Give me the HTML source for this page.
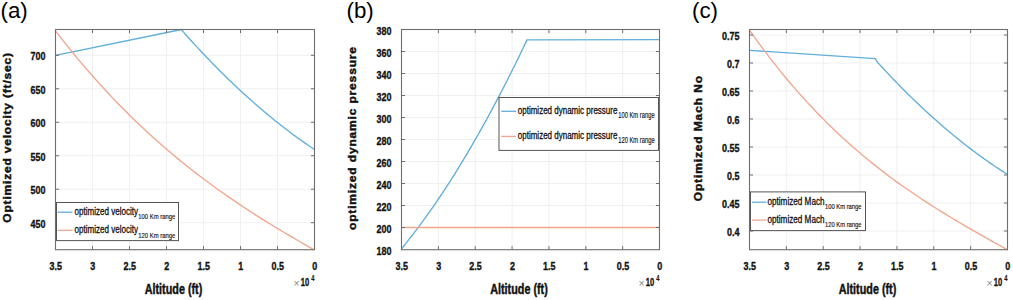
<!DOCTYPE html><html><head><meta charset="utf-8"><style>html,body{margin:0;padding:0;background:#fff;overflow:hidden}svg{display:block}</style></head><body><svg width="1013" height="300" viewBox="0 0 1013 300">
<style>text{font-family:"Liberation Sans",sans-serif;fill:#111}.tk{font-size:11.5px;font-weight:bold;stroke:#111;stroke-width:0.35px}.tks{font-size:9.3px;font-weight:bold;stroke:#111;stroke-width:0.2px}.ex{font-size:11px;fill:#888}.ylab{font-size:12px;font-weight:bold;stroke:#111;stroke-width:0.45px}.lab{font-size:14.2px;font-weight:bold;stroke:#111;stroke-width:0.45px}.lg{font-size:10.3px;fill:#111;stroke:#111;stroke-width:0.3px}.lgs{font-size:7.4px;fill:#111;stroke:#111;stroke-width:0.15px}.pl{font-size:22.3px;fill:#000}</style>
<rect width="1013" height="300" fill="#fff"/>
<path d="M92.50,29.5V249.7 M129.50,29.5V249.7 M166.50,29.5V249.7 M203.50,29.5V249.7 M240.50,29.5V249.7 M277.50,29.5V249.7 M55.5,55.30H314.5 M55.5,88.78H314.5 M55.5,122.26H314.5 M55.5,155.74H314.5 M55.5,189.22H314.5 M55.5,222.70H314.5" stroke="#f0f0f0" stroke-width="1" fill="none"/>
<path d="M55.50,55.30 L181.50,29.50 L183.75,32.41 L186.01,34.94 L188.26,37.46 L190.52,39.95 L192.77,42.43 L195.03,44.89 L197.28,47.34 L199.53,49.76 L201.79,52.17 L204.04,54.56 L206.30,56.93 L208.55,59.28 L210.81,61.62 L213.06,63.93 L215.31,66.23 L217.57,68.51 L219.82,70.77 L222.08,73.02 L224.33,75.25 L226.58,77.45 L228.84,79.65 L231.09,81.82 L233.35,83.97 L235.60,86.11 L237.86,88.23 L240.11,90.33 L242.36,92.41 L244.62,94.48 L246.87,96.52 L249.13,98.55 L251.38,100.56 L253.64,102.55 L255.89,104.53 L258.14,106.49 L260.40,108.42 L262.65,110.34 L264.91,112.25 L267.16,114.13 L269.42,116.00 L271.67,117.85 L273.92,119.68 L276.18,121.49 L278.43,123.28 L280.69,125.06 L282.94,126.82 L285.19,128.56 L287.45,130.28 L289.70,131.99 L291.96,133.67 L294.21,135.34 L296.47,136.99 L298.72,138.62 L300.97,140.24 L303.23,141.83 L305.48,143.41 L307.74,144.97 L309.99,146.52 L312.25,148.04 L314.50,149.55" stroke="#62aedb" stroke-width="1.35" fill="none" stroke-linejoin="round"/>
<path d="M55.50,30.89 L59.89,36.57 L64.28,42.15 L68.67,47.64 L73.06,53.05 L77.45,58.36 L81.84,63.59 L86.23,68.73 L90.62,73.79 L95.01,78.76 L99.40,83.65 L103.79,88.46 L108.18,93.19 L112.57,97.84 L116.96,102.41 L121.35,106.91 L125.74,111.34 L130.13,115.69 L134.52,119.97 L138.91,124.18 L143.30,128.32 L147.69,132.39 L152.08,136.40 L156.47,140.34 L160.86,144.22 L165.25,148.03 L169.64,151.79 L174.03,155.48 L178.42,159.12 L182.81,162.70 L187.19,166.22 L191.58,169.69 L195.97,173.10 L200.36,176.47 L204.75,179.78 L209.14,183.04 L213.53,186.26 L217.92,189.43 L222.31,192.55 L226.70,195.63 L231.09,198.67 L235.48,201.66 L239.87,204.62 L244.26,207.54 L248.65,210.41 L253.04,213.26 L257.43,216.07 L261.82,218.84 L266.21,221.59 L270.60,224.30 L274.99,226.98 L279.38,229.64 L283.77,232.26 L288.16,234.87 L292.55,237.45 L296.94,240.00 L301.33,242.53 L305.72,245.05 L310.11,247.54 L314.50,250.02" stroke="#f1a68c" stroke-width="1.35" fill="none"/>
<path d="M92.50,249.7v-3.6M92.50,29.5v3.6 M129.50,249.7v-3.6M129.50,29.5v3.6 M166.50,249.7v-3.6M166.50,29.5v3.6 M203.50,249.7v-3.6M203.50,29.5v3.6 M240.50,249.7v-3.6M240.50,29.5v3.6 M277.50,249.7v-3.6M277.50,29.5v3.6 M55.5,55.30h3.6M314.5,55.30h-3.6 M55.5,88.78h3.6M314.5,88.78h-3.6 M55.5,122.26h3.6M314.5,122.26h-3.6 M55.5,155.74h3.6M314.5,155.74h-3.6 M55.5,189.22h3.6M314.5,189.22h-3.6 M55.5,222.70h3.6M314.5,222.70h-3.6" stroke="#6e6e6e" stroke-width="1" fill="none"/>
<rect x="55.5" y="29.5" width="259.0" height="220.2" fill="none" stroke="#6e6e6e" stroke-width="1.1"/>
<text transform="translate(55.80,269.60) scale(0.78,1)" text-anchor="middle" class="tk">3.5</text>
<text transform="translate(92.80,269.60) scale(0.78,1)" text-anchor="middle" class="tk">3</text>
<text transform="translate(129.80,269.60) scale(0.78,1)" text-anchor="middle" class="tk">2.5</text>
<text transform="translate(166.80,269.60) scale(0.78,1)" text-anchor="middle" class="tk">2</text>
<text transform="translate(203.80,269.60) scale(0.78,1)" text-anchor="middle" class="tk">1.5</text>
<text transform="translate(240.80,269.60) scale(0.78,1)" text-anchor="middle" class="tk">1</text>
<text transform="translate(277.80,269.60) scale(0.78,1)" text-anchor="middle" class="tk">0.5</text>
<text transform="translate(314.80,269.60) scale(0.78,1)" text-anchor="middle" class="tk">0</text>
<text transform="translate(45.50,60.30) scale(0.78,1)" text-anchor="end" class="tk">700</text>
<text transform="translate(45.50,93.78) scale(0.78,1)" text-anchor="end" class="tk">650</text>
<text transform="translate(45.50,127.26) scale(0.78,1)" text-anchor="end" class="tk">600</text>
<text transform="translate(45.50,160.74) scale(0.78,1)" text-anchor="end" class="tk">550</text>
<text transform="translate(45.50,194.22) scale(0.78,1)" text-anchor="end" class="tk">500</text>
<text transform="translate(45.50,227.70) scale(0.78,1)" text-anchor="end" class="tk">450</text>
<text transform="translate(293.60,286.60) scale(0.95,1)" class="ex">×</text>
<text transform="translate(300.80,286.20) scale(0.66,1)" class="tk">10</text>
<text transform="translate(311.20,281.40) scale(0.62,1)" class="tks">4</text>
<path d="M438.36,29.5V249.7 M475.21,29.5V249.7 M512.07,29.5V249.7 M548.93,29.5V249.7 M585.79,29.5V249.7 M622.64,29.5V249.7 M401.5,51.50H659.5 M401.5,73.50H659.5 M401.5,95.50H659.5 M401.5,117.50H659.5 M401.5,139.50H659.5 M401.5,161.50H659.5 M401.5,183.50H659.5 M401.5,205.50H659.5 M401.5,227.50H659.5" stroke="#f0f0f0" stroke-width="1" fill="none"/>
<path d="M401.50,248.80 L403.63,246.20 L405.75,243.57 L407.88,240.90 L410.01,238.20 L412.14,235.47 L414.26,232.70 L416.39,229.90 L418.52,227.07 L420.64,224.21 L422.77,221.32 L424.90,218.39 L427.03,215.43 L429.15,212.44 L431.28,209.42 L433.41,206.36 L435.53,203.27 L437.66,200.15 L439.79,197.00 L441.92,193.81 L444.04,190.60 L446.17,187.35 L448.30,184.06 L450.42,180.75 L452.55,177.40 L454.68,174.02 L456.81,170.61 L458.93,167.17 L461.06,163.69 L463.19,160.18 L465.31,156.64 L467.44,153.07 L469.57,149.46 L471.69,145.82 L473.82,142.15 L475.95,138.45 L478.08,134.72 L480.20,130.95 L482.33,127.15 L484.46,123.32 L486.58,119.45 L488.71,115.55 L490.84,111.63 L492.97,107.66 L495.09,103.67 L497.22,99.64 L499.35,95.59 L501.47,91.50 L503.60,87.37 L505.73,83.22 L507.86,79.03 L509.98,74.81 L512.11,70.56 L514.24,66.27 L516.36,61.95 L518.49,57.60 L520.62,53.22 L522.75,48.81 L524.87,44.36 L527.00,39.88 L659.50,39.60" stroke="#62aedb" stroke-width="1.35" fill="none" stroke-linejoin="round"/>
<path d="M401.5,227.50H659.5" stroke="#f1a68c" stroke-width="1.35" fill="none"/>
<path d="M438.36,249.7v-3.6M438.36,29.5v3.6 M475.21,249.7v-3.6M475.21,29.5v3.6 M512.07,249.7v-3.6M512.07,29.5v3.6 M548.93,249.7v-3.6M548.93,29.5v3.6 M585.79,249.7v-3.6M585.79,29.5v3.6 M622.64,249.7v-3.6M622.64,29.5v3.6 M401.5,51.50h3.6M659.5,51.50h-3.6 M401.5,73.50h3.6M659.5,73.50h-3.6 M401.5,95.50h3.6M659.5,95.50h-3.6 M401.5,117.50h3.6M659.5,117.50h-3.6 M401.5,139.50h3.6M659.5,139.50h-3.6 M401.5,161.50h3.6M659.5,161.50h-3.6 M401.5,183.50h3.6M659.5,183.50h-3.6 M401.5,205.50h3.6M659.5,205.50h-3.6 M401.5,227.50h3.6M659.5,227.50h-3.6" stroke="#6e6e6e" stroke-width="1" fill="none"/>
<rect x="401.5" y="29.5" width="258.0" height="220.2" fill="none" stroke="#6e6e6e" stroke-width="1.1"/>
<text transform="translate(401.80,269.60) scale(0.78,1)" text-anchor="middle" class="tk">3.5</text>
<text transform="translate(438.66,269.60) scale(0.78,1)" text-anchor="middle" class="tk">3</text>
<text transform="translate(475.51,269.60) scale(0.78,1)" text-anchor="middle" class="tk">2.5</text>
<text transform="translate(512.37,269.60) scale(0.78,1)" text-anchor="middle" class="tk">2</text>
<text transform="translate(549.23,269.60) scale(0.78,1)" text-anchor="middle" class="tk">1.5</text>
<text transform="translate(586.09,269.60) scale(0.78,1)" text-anchor="middle" class="tk">1</text>
<text transform="translate(622.94,269.60) scale(0.78,1)" text-anchor="middle" class="tk">0.5</text>
<text transform="translate(659.80,269.60) scale(0.78,1)" text-anchor="middle" class="tk">0</text>
<text transform="translate(391.50,34.50) scale(0.78,1)" text-anchor="end" class="tk">380</text>
<text transform="translate(391.50,56.50) scale(0.78,1)" text-anchor="end" class="tk">360</text>
<text transform="translate(391.50,78.50) scale(0.78,1)" text-anchor="end" class="tk">340</text>
<text transform="translate(391.50,100.50) scale(0.78,1)" text-anchor="end" class="tk">320</text>
<text transform="translate(391.50,122.50) scale(0.78,1)" text-anchor="end" class="tk">300</text>
<text transform="translate(391.50,144.50) scale(0.78,1)" text-anchor="end" class="tk">280</text>
<text transform="translate(391.50,166.50) scale(0.78,1)" text-anchor="end" class="tk">260</text>
<text transform="translate(391.50,188.50) scale(0.78,1)" text-anchor="end" class="tk">240</text>
<text transform="translate(391.50,210.50) scale(0.78,1)" text-anchor="end" class="tk">220</text>
<text transform="translate(391.50,232.50) scale(0.78,1)" text-anchor="end" class="tk">200</text>
<text transform="translate(391.50,254.50) scale(0.78,1)" text-anchor="end" class="tk">180</text>
<text transform="translate(638.60,286.60) scale(0.95,1)" class="ex">×</text>
<text transform="translate(645.80,286.20) scale(0.66,1)" class="tk">10</text>
<text transform="translate(656.20,281.40) scale(0.62,1)" class="tks">4</text>
<path d="M786.36,29.5V249.7 M823.21,29.5V249.7 M860.07,29.5V249.7 M896.93,29.5V249.7 M933.79,29.5V249.7 M970.64,29.5V249.7 M749.5,35.00H1007.5 M749.5,63.00H1007.5 M749.5,91.00H1007.5 M749.5,119.00H1007.5 M749.5,147.00H1007.5 M749.5,175.00H1007.5 M749.5,203.00H1007.5 M749.5,231.00H1007.5" stroke="#f0f0f0" stroke-width="1" fill="none"/>
<path d="M749.50,50.30 L875.20,58.70 L877.44,62.18 L879.68,64.64 L881.93,67.07 L884.17,69.49 L886.41,71.90 L888.65,74.28 L890.90,76.64 L893.14,78.99 L895.38,81.32 L897.62,83.63 L899.87,85.92 L902.11,88.20 L904.35,90.45 L906.59,92.69 L908.84,94.91 L911.08,97.11 L913.32,99.29 L915.56,101.45 L917.81,103.60 L920.05,105.73 L922.29,107.84 L924.53,109.93 L926.77,112.00 L929.02,114.06 L931.26,116.09 L933.50,118.11 L935.74,120.11 L937.99,122.09 L940.23,124.05 L942.47,126.00 L944.71,127.93 L946.96,129.83 L949.20,131.72 L951.44,133.60 L953.68,135.45 L955.93,137.28 L958.17,139.10 L960.41,140.90 L962.65,142.68 L964.89,144.44 L967.14,146.19 L969.38,147.91 L971.62,149.62 L973.86,151.31 L976.11,152.98 L978.35,154.63 L980.59,156.27 L982.83,157.88 L985.08,159.48 L987.32,161.06 L989.56,162.62 L991.80,164.17 L994.05,165.69 L996.29,167.20 L998.53,168.68 L1000.77,170.15 L1003.02,171.61 L1005.26,173.04 L1007.50,174.45" stroke="#62aedb" stroke-width="1.35" fill="none" stroke-linejoin="round"/>
<path d="M749.50,30.24 L753.87,36.41 L758.25,42.46 L762.62,48.38 L766.99,54.18 L771.36,59.87 L775.74,65.44 L780.11,70.89 L784.48,76.24 L788.86,81.47 L793.23,86.60 L797.60,91.62 L801.97,96.54 L806.35,101.36 L810.72,106.08 L815.09,110.70 L819.47,115.22 L823.84,119.65 L828.21,124.00 L832.58,128.25 L836.96,132.42 L841.33,136.50 L845.70,140.50 L850.08,144.42 L854.45,148.26 L858.82,152.03 L863.19,155.72 L867.57,159.34 L871.94,162.89 L876.31,166.37 L880.69,169.79 L885.06,173.15 L889.43,176.44 L893.81,179.67 L898.18,182.85 L902.55,185.97 L906.92,189.04 L911.30,192.06 L915.67,195.03 L920.04,197.95 L924.42,200.83 L928.79,203.66 L933.16,206.46 L937.53,209.22 L941.91,211.94 L946.28,214.62 L950.65,217.28 L955.03,219.91 L959.40,222.50 L963.77,225.08 L968.14,227.63 L972.52,230.15 L976.89,232.66 L981.26,235.15 L985.64,237.63 L990.01,240.09 L994.38,242.55 L998.75,244.99 L1003.13,247.43 L1007.50,249.86" stroke="#f1a68c" stroke-width="1.35" fill="none"/>
<path d="M786.36,249.7v-3.6M786.36,29.5v3.6 M823.21,249.7v-3.6M823.21,29.5v3.6 M860.07,249.7v-3.6M860.07,29.5v3.6 M896.93,249.7v-3.6M896.93,29.5v3.6 M933.79,249.7v-3.6M933.79,29.5v3.6 M970.64,249.7v-3.6M970.64,29.5v3.6 M749.5,35.00h3.6M1007.5,35.00h-3.6 M749.5,63.00h3.6M1007.5,63.00h-3.6 M749.5,91.00h3.6M1007.5,91.00h-3.6 M749.5,119.00h3.6M1007.5,119.00h-3.6 M749.5,147.00h3.6M1007.5,147.00h-3.6 M749.5,175.00h3.6M1007.5,175.00h-3.6 M749.5,203.00h3.6M1007.5,203.00h-3.6 M749.5,231.00h3.6M1007.5,231.00h-3.6" stroke="#6e6e6e" stroke-width="1" fill="none"/>
<rect x="749.5" y="29.5" width="258.0" height="220.2" fill="none" stroke="#6e6e6e" stroke-width="1.1"/>
<text transform="translate(749.80,269.60) scale(0.78,1)" text-anchor="middle" class="tk">3.5</text>
<text transform="translate(786.66,269.60) scale(0.78,1)" text-anchor="middle" class="tk">3</text>
<text transform="translate(823.51,269.60) scale(0.78,1)" text-anchor="middle" class="tk">2.5</text>
<text transform="translate(860.37,269.60) scale(0.78,1)" text-anchor="middle" class="tk">2</text>
<text transform="translate(897.23,269.60) scale(0.78,1)" text-anchor="middle" class="tk">1.5</text>
<text transform="translate(934.09,269.60) scale(0.78,1)" text-anchor="middle" class="tk">1</text>
<text transform="translate(970.94,269.60) scale(0.78,1)" text-anchor="middle" class="tk">0.5</text>
<text transform="translate(1007.80,269.60) scale(0.78,1)" text-anchor="middle" class="tk">0</text>
<text transform="translate(739.50,40.00) scale(0.78,1)" text-anchor="end" class="tk">0.75</text>
<text transform="translate(739.50,68.00) scale(0.78,1)" text-anchor="end" class="tk">0.7</text>
<text transform="translate(739.50,96.00) scale(0.78,1)" text-anchor="end" class="tk">0.65</text>
<text transform="translate(739.50,124.00) scale(0.78,1)" text-anchor="end" class="tk">0.6</text>
<text transform="translate(739.50,152.00) scale(0.78,1)" text-anchor="end" class="tk">0.55</text>
<text transform="translate(739.50,180.00) scale(0.78,1)" text-anchor="end" class="tk">0.5</text>
<text transform="translate(739.50,208.00) scale(0.78,1)" text-anchor="end" class="tk">0.45</text>
<text transform="translate(739.50,236.00) scale(0.78,1)" text-anchor="end" class="tk">0.4</text>
<text transform="translate(986.60,286.60) scale(0.95,1)" class="ex">×</text>
<text transform="translate(993.80,286.20) scale(0.66,1)" class="tk">10</text>
<text transform="translate(1004.20,281.40) scale(0.62,1)" class="tks">4</text>
<rect x="56.5" y="202.5" width="122.0" height="38.099999999999994" fill="#fff" stroke="#555" stroke-width="1"/>
<path d="M57.5,212.2H72.5" stroke="#62aedb" stroke-width="1.3"/>
<path d="M57.5,230.3H72.5" stroke="#f1a68c" stroke-width="1.3"/>
<text x="74.5" y="214.7" class="lg" textLength="63.5" lengthAdjust="spacingAndGlyphs">optimized velocity</text>
<text x="138.3" y="219.3" class="lgs" style="font-size:7.4px" textLength="37" lengthAdjust="spacingAndGlyphs">100 Km range</text>
<text x="74.5" y="233.0" class="lg" textLength="63.5" lengthAdjust="spacingAndGlyphs">optimized velocity</text>
<text x="138.3" y="237.6" class="lgs" style="font-size:7.4px" textLength="37" lengthAdjust="spacingAndGlyphs">120 Km range</text>
<rect x="499" y="97.5" width="159.5" height="52.900000000000006" fill="#fff" stroke="#555" stroke-width="1"/>
<path d="M501.2,111.3H516.1" stroke="#62aedb" stroke-width="1.3"/>
<path d="M501.2,136.4H516.1" stroke="#f1a68c" stroke-width="1.3"/>
<text x="517.8" y="114" class="lg" textLength="99.6" lengthAdjust="spacingAndGlyphs">optimized dynamic pressure</text>
<text x="618.2" y="118.0" class="lgs" style="font-size:8.2px" textLength="36.5" lengthAdjust="spacingAndGlyphs">100 Km range</text>
<text x="517.8" y="139" class="lg" textLength="99.6" lengthAdjust="spacingAndGlyphs">optimized dynamic pressure</text>
<text x="618.2" y="143.0" class="lgs" style="font-size:8.2px" textLength="36.5" lengthAdjust="spacingAndGlyphs">120 Km range</text>
<rect x="750.5" y="191.9" width="115.0" height="38.69999999999999" fill="#fff" stroke="#555" stroke-width="1"/>
<path d="M752,202.2H766.5" stroke="#62aedb" stroke-width="1.3"/>
<path d="M752,220.1H766.5" stroke="#f1a68c" stroke-width="1.3"/>
<text x="767.5" y="204.5" class="lg" textLength="57" lengthAdjust="spacingAndGlyphs">optimized Mach</text>
<text x="825" y="209.1" class="lgs" style="font-size:7.4px" textLength="36.5" lengthAdjust="spacingAndGlyphs">100 Km range</text>
<text x="767.5" y="222.5" class="lg" textLength="57" lengthAdjust="spacingAndGlyphs">optimized Mach</text>
<text x="825" y="227.1" class="lgs" style="font-size:7.4px" textLength="36.5" lengthAdjust="spacingAndGlyphs">120 Km range</text>
<text x="173.5" y="293.8" text-anchor="middle" class="lab" textLength="57.5" lengthAdjust="spacingAndGlyphs">Altitude (ft)</text>
<text x="519" y="293.8" text-anchor="middle" class="lab" textLength="57.5" lengthAdjust="spacingAndGlyphs">Altitude (ft)</text>
<text x="867.5" y="293.8" text-anchor="middle" class="lab" textLength="57.5" lengthAdjust="spacingAndGlyphs">Altitude (ft)</text>
<g transform="translate(11.0,137.85) scale(0.97,1) rotate(-90)"><text x="0" y="0" text-anchor="middle" class="ylab" textLength="169.7" lengthAdjust="spacing">Optimized velocity (ft/sec)</text></g>
<g transform="translate(356.3,138.5) scale(0.97,1) rotate(-90)"><text x="0" y="0" text-anchor="middle" class="ylab" textLength="183" lengthAdjust="spacing">optimized dynamic pressure</text></g>
<g transform="translate(701.7,138.65) scale(0.97,1) rotate(-90)"><text x="0" y="0" text-anchor="middle" class="ylab" textLength="125.30000000000001" lengthAdjust="spacing">Optimized Mach No</text></g>
<text x="0.5" y="18.3" class="pl">(a)</text>
<text x="346.5" y="18.3" class="pl">(b)</text>
<text x="692" y="18.3" class="pl">(c)</text>
</svg></body></html>
